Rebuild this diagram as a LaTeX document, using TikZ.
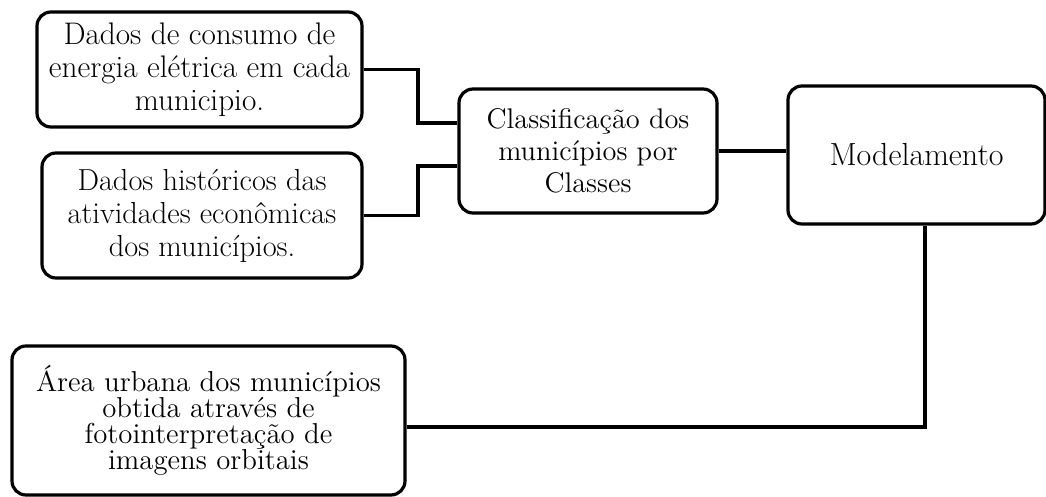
\documentclass[tikz,border=0pt]{standalone}
\usetikzlibrary{calc}
\begin{document}
\begin{tikzpicture}[x=0.5pt,y=-0.5pt,
  caixa/.style={draw, line width=1.6pt, rounded corners=7pt, align=center, inner sep=0pt},
  ligacao/.style={line width=1.6pt}]
\useasboundingbox (0,0) rectangle (1046,497);

% Caixas de dados
\node[caixa, minimum width=162.5pt, minimum height=57.5pt, font=\fontsize{15.6}{16.5}\selectfont] (consumo) at (199.5,69.5)
  {Dados de consumo de\\energia elétrica em cada\\municipio.};
\node[caixa, minimum width=160pt, minimum height=62.5pt, font=\fontsize{15.2}{16.5}\selectfont] (historico) at (202,215.5)
  {Dados históricos das\\atividades econômicas\\dos municípios.};
\node[caixa, minimum width=196.5pt, minimum height=74.5pt, font=\fontsize{14.4}{13}\selectfont] (area) at (208.5,420.5)
  {Área urbana dos municípios\\obtida através de\\fotointerpretação de\\imagens orbitais};

% Classificação e modelamento
\node[caixa, minimum width=129pt, minimum height=62pt, font=\fontsize{14.2}{16}\selectfont] (classif) at (588,151)
  {Classificação dos\\municípios por\\Classes};
\node[caixa, minimum width=128.5pt, minimum height=69pt, font=\fontsize{16}{16}\selectfont] (modelo) at (916.5,155)
  {Modelamento};

% Ligações
\coordinate (juncao) at (418,0);
\draw[ligacao] (consumo.east) -- (consumo.east -| juncao) |- ($(classif.west)+(0,-28)$);
\draw[ligacao] (historico.east) -- (historico.east -| juncao) |- ($(classif.west)+(0,15)$);
\draw[ligacao] (classif.east) -- (classif.east -| modelo.west);
\draw[ligacao] ($(modelo.south)+(8.5,0)$) |- ($(area.east)+(0,6.5)$);
\end{tikzpicture}
\end{document}
